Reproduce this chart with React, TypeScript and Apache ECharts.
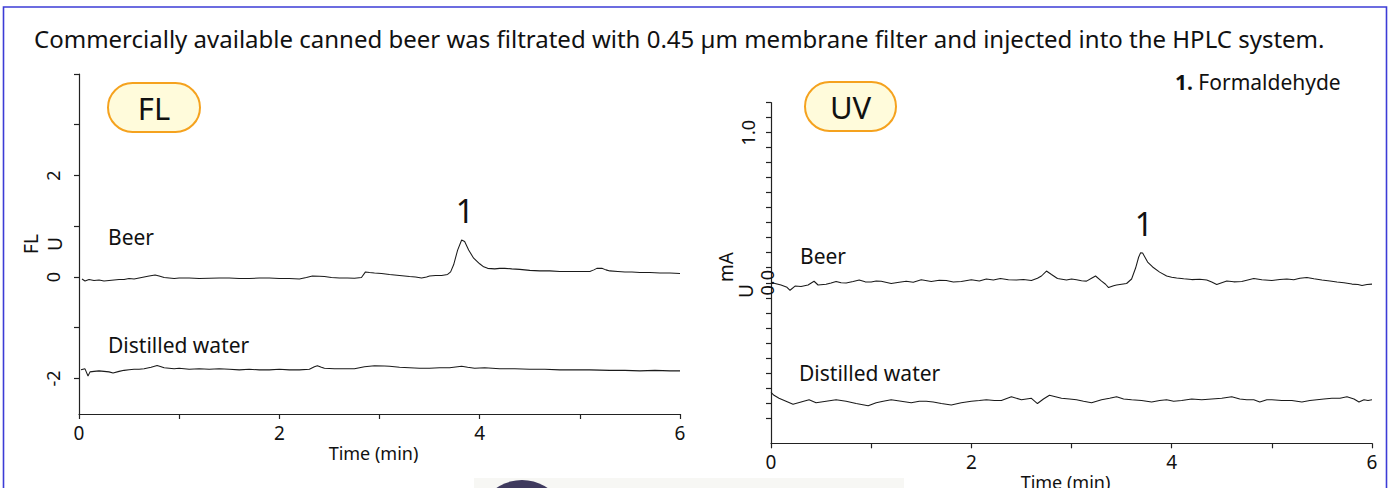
import React, { useEffect, useRef } from "react";
import * as echarts from "echarts";

// ---------- data (time in min, signal) ----------
const flBeer: [number, number][] = [
  [0.03, -0.04], [0.06, -0.08], [0.1, -0.05], [0.15, -0.07], [0.2, -0.06], [0.25, -0.08], [0.3, -0.07],
  [0.35, -0.06], [0.4, -0.05], [0.45, -0.05], [0.5, -0.03], [0.55, -0.04], [0.6, -0.02], [0.65, 0.0],
  [0.7, 0.02], [0.76, 0.04], [0.8, 0.02], [0.85, -0.01], [0.9, -0.02], [0.95, -0.03], [1.0, -0.02],
  [1.1, -0.02], [1.2, -0.03], [1.3, -0.025], [1.4, -0.02], [1.5, -0.02], [1.6, -0.03], [1.7, -0.03],
  [1.8, -0.02], [1.9, -0.02], [2.0, -0.03], [2.1, -0.03], [2.2, -0.04], [2.27, -0.01], [2.33, 0.02],
  [2.4, 0.015], [2.45, 0.01], [2.52, -0.01], [2.6, -0.02], [2.68, -0.02], [2.75, -0.025], [2.82, -0.01],
  [2.86, 0.1], [2.9, 0.09], [2.95, 0.08], [3.02, 0.07], [3.1, 0.05], [3.2, 0.03], [3.3, 0.01],
  [3.36, 0.0], [3.42, -0.02], [3.47, 0.0], [3.5, 0.02], [3.56, 0.03], [3.62, 0.03], [3.68, 0.05],
  [3.71, 0.1], [3.74, 0.24], [3.78, 0.53], [3.82, 0.73], [3.85, 0.7], [3.89, 0.53], [3.94, 0.37],
  [4.0, 0.26], [4.04, 0.2], [4.08, 0.17], [4.15, 0.16], [4.2, 0.17], [4.25, 0.17], [4.32, 0.16],
  [4.4, 0.15], [4.5, 0.13], [4.6, 0.12], [4.7, 0.12], [4.8, 0.11], [4.9, 0.11], [5.0, 0.11],
  [5.1, 0.11], [5.14, 0.14], [5.17, 0.17], [5.22, 0.17], [5.26, 0.14], [5.3, 0.12], [5.38, 0.11],
  [5.45, 0.1], [5.52, 0.1], [5.6, 0.09], [5.7, 0.09], [5.8, 0.08], [5.9, 0.08], [6.0, 0.07],
];

const flWater: [number, number][] = [
  [0.02, -1.83], [0.06, -1.81], [0.09, -1.95], [0.11, -1.87], [0.15, -1.86], [0.2, -1.85], [0.25, -1.86],
  [0.3, -1.87], [0.34, -1.89], [0.4, -1.86], [0.45, -1.84], [0.5, -1.83], [0.55, -1.82], [0.6, -1.82],
  [0.65, -1.81], [0.72, -1.78], [0.78, -1.745], [0.82, -1.77], [0.85, -1.79], [0.9, -1.8], [0.95, -1.81],
  [1.0, -1.8], [1.1, -1.82], [1.2, -1.81], [1.3, -1.82], [1.4, -1.81], [1.5, -1.82], [1.6, -1.83],
  [1.7, -1.82], [1.8, -1.83], [1.9, -1.83], [2.0, -1.82], [2.1, -1.83], [2.2, -1.83], [2.3, -1.82],
  [2.35, -1.77], [2.38, -1.75], [2.42, -1.78], [2.45, -1.8], [2.55, -1.81], [2.65, -1.81], [2.75, -1.81],
  [2.85, -1.77], [2.95, -1.75], [3.05, -1.755], [3.1, -1.76], [3.2, -1.78], [3.3, -1.79], [3.4, -1.8],
  [3.5, -1.8], [3.6, -1.79], [3.7, -1.79], [3.82, -1.76], [3.88, -1.78], [3.95, -1.8], [4.05, -1.79],
  [4.2, -1.81], [4.35, -1.81], [4.5, -1.82], [4.65, -1.82], [4.8, -1.83], [4.95, -1.83], [5.1, -1.83],
  [5.3, -1.84], [5.45, -1.84], [5.6, -1.85], [5.75, -1.84], [5.9, -1.85], [6.0, -1.85],
];

const uvBeer: [number, number][] = [
  [0.0, 0.0], [0.04, -0.005], [0.1, -0.015], [0.16, -0.03], [0.19, -0.05], [0.24, -0.022], [0.3, -0.025],
  [0.37, -0.015], [0.43, 0.01], [0.47, -0.015], [0.55, -0.01], [0.6, -0.002], [0.65, 0.008], [0.7, 0.0],
  [0.75, -0.002], [0.82, 0.008], [0.88, 0.018], [0.94, 0.006], [1.0, 0.005], [1.05, 0.012], [1.1, 0.01],
  [1.2, -0.005], [1.28, 0.004], [1.35, 0.01], [1.42, 0.004], [1.5, 0.02], [1.6, 0.008], [1.68, 0.016],
  [1.75, 0.015], [1.82, 0.005], [1.9, 0.008], [2.0, 0.02], [2.08, 0.012], [2.15, 0.025], [2.22, 0.018],
  [2.29, 0.028], [2.37, 0.02], [2.45, 0.018], [2.52, 0.022], [2.6, 0.015], [2.66, 0.03], [2.7, 0.045],
  [2.75, 0.078], [2.8, 0.055], [2.86, 0.028], [2.95, 0.018], [3.0, 0.025], [3.05, 0.02], [3.1, 0.014],
  [3.15, 0.011], [3.2, 0.03], [3.24, 0.045], [3.3, 0.011], [3.34, -0.01], [3.37, -0.032], [3.42, -0.02],
  [3.45, -0.015], [3.5, -0.01], [3.55, -0.005], [3.6, 0.025], [3.64, 0.098], [3.67, 0.17], [3.69, 0.2],
  [3.71, 0.198], [3.76, 0.138], [3.81, 0.105], [3.88, 0.071], [3.95, 0.045], [4.0, 0.036], [4.05, 0.031],
  [4.12, 0.026], [4.2, 0.021], [4.28, 0.024], [4.35, 0.018], [4.4, 0.005], [4.45, -0.012], [4.5, 0.0],
  [4.55, 0.011], [4.62, 0.006], [4.7, 0.008], [4.76, 0.018], [4.82, 0.028], [4.9, 0.02], [5.0, 0.015],
  [5.08, 0.022], [5.15, 0.025], [5.22, 0.02], [5.28, 0.03], [5.35, 0.035], [5.42, 0.026], [5.5, 0.018],
  [5.58, 0.012], [5.65, 0.005], [5.72, 0.0], [5.8, -0.009], [5.86, -0.012], [5.9, -0.019], [5.95, -0.012],
  [6.0, -0.009],
];

const uvWater: [number, number][] = [
  [0.0, -0.73], [0.03, -0.75], [0.08, -0.77], [0.15, -0.79], [0.22, -0.81], [0.3, -0.795], [0.38, -0.78],
  [0.45, -0.8], [0.55, -0.79], [0.65, -0.78], [0.75, -0.79], [0.85, -0.805], [0.97, -0.82], [1.05, -0.8],
  [1.12, -0.79], [1.2, -0.78], [1.3, -0.79], [1.4, -0.8], [1.48, -0.79], [1.55, -0.79], [1.62, -0.795],
  [1.7, -0.805], [1.8, -0.815], [1.9, -0.8], [2.0, -0.79], [2.08, -0.785], [2.15, -0.78], [2.23, -0.785],
  [2.3, -0.785], [2.4, -0.76], [2.5, -0.78], [2.6, -0.77], [2.66, -0.805], [2.72, -0.775], [2.78, -0.75],
  [2.84, -0.76], [2.9, -0.77], [2.98, -0.775], [3.05, -0.78], [3.12, -0.79], [3.2, -0.8], [3.3, -0.78],
  [3.38, -0.77], [3.45, -0.76], [3.52, -0.775], [3.6, -0.78], [3.7, -0.785], [3.8, -0.795], [3.88, -0.785],
  [3.95, -0.78], [4.02, -0.79], [4.1, -0.785], [4.2, -0.775], [4.3, -0.78], [4.4, -0.775], [4.5, -0.77],
  [4.6, -0.76], [4.68, -0.775], [4.75, -0.78], [4.82, -0.78], [4.88, -0.795], [4.95, -0.78], [5.0, -0.78],
  [5.1, -0.785], [5.2, -0.785], [5.3, -0.795], [5.38, -0.785], [5.45, -0.78], [5.52, -0.775], [5.6, -0.77],
  [5.68, -0.77], [5.75, -0.76], [5.82, -0.775], [5.87, -0.795], [5.92, -0.78], [5.96, -0.785], [6.0, -0.78],
];

const timeTicks = [0, 1, 2, 3, 4, 5, 6];
const timeLabels = [0, 2, 4, 6];
const flTicks = [-2, -1, 0, 1, 2, 3, 4];
const flLabels = [-2, 0, 2];
const uvTicks = [-0.9, -0.8, -0.7, -0.6, -0.5, -0.4, -0.3, -0.2, -0.1, 0, 0.1, 0.2, 0.3, 0.4, 0.5, 0.6, 0.7, 0.8, 0.9, 1.0, 1.1, 1.2];
const uvLabelUpper = [1.0];
const uvLabelZero = [0.0];

const subtitle =
  "Commercially available canned beer was filtrated with 0.45 µm membrane filter and injected into the HPLC system.";

const FONT = "'Noto Sans', sans-serif";
const AX = "#222";

function xAxisFor(gridIndex: number) {
  return {
    type: "value" as const,
    gridIndex,
    min: 0,
    max: 6,
    axisLine: { show: true, onZero: false, lineStyle: { color: AX, width: 1.2 } },
    axisTick: { show: true, length: 5, customValues: timeTicks, lineStyle: { color: AX, width: 1.2 } },
    axisLabel: {
      customValues: timeLabels,
      margin: 9,
      color: "#111",
      fontSize: 19,
      fontFamily: FONT,
    },
    splitLine: { show: false },
    name: "Time (min)",
    nameLocation: "middle" as const,
    nameGap: 30,
    nameMoveOverlap: false,
    nameTextStyle: { color: "#111", fontSize: 18, fontFamily: FONT, padding: [0, 12, 0, 0] },
  };
}

export default function App() {
  const ref = useRef<HTMLDivElement>(null);
  useEffect(() => {
    if (!ref.current) return;
    const chart = echarts.init(ref.current, null, { renderer: "svg" });
    const lineSeries = (data: [number, number][], xi: number, yi: number) => ({
      type: "line" as const,
      data,
      xAxisIndex: xi,
      yAxisIndex: yi,
      showSymbol: false,
      symbol: "none",
      smooth: false,
      lineStyle: { color: "#1a1a1a", width: 1.05 },
      silent: true,
    });
    const pill = (x: number, y: number, w: number, h: number, label: string) => ({
      type: "group",
      children: [
        {
          type: "rect",
          shape: { x, y, width: w, height: h, r: h / 2 },
          style: { fill: "#fffbdb", stroke: "#f5a21e", lineWidth: 2 },
        },
        {
          type: "text",
          x: x + w / 2,
          y: y + h / 2,
          style: {
            text: label,
            fontSize: 31,
            fontFamily: FONT,
            fill: "#111",
            textAlign: "center",
            textVerticalAlign: "middle",
          },
        },
      ],
    });
    const txt = (x: number, y: number, text: string, size: number, align = "left", rotation = 0) => ({
      type: "text",
      x,
      y,
      rotation,
      style: {
        text,
        fontSize: size,
        fontFamily: FONT,
        fill: "#111",
        textAlign: align,
        textVerticalAlign: "middle",
      },
    });

    chart.setOption({
      animation: false,
      backgroundColor: "#ffffff",
      textStyle: { fontFamily: FONT },
      grid: [
        { left: 79, top: 74, width: 601, height: 340, containLabel: false, outerBoundsMode: "none" },
        { left: 771, top: 102.7, width: 601, height: 340.6, containLabel: false, outerBoundsMode: "none" },
      ],
      xAxis: [xAxisFor(0), xAxisFor(1)],
      yAxis: [
        {
          type: "value",
          gridIndex: 0,
          position: "left",
          min: -2.7,
          max: 4,
          axisLine: { show: true, onZero: false, lineStyle: { color: AX, width: 1.2 } },
          axisTick: { show: true, length: 5, customValues: flTicks, lineStyle: { color: AX, width: 1.2 } },
          axisLabel: {
            customValues: flLabels,
            rotate: 90,
            margin: 17,
            color: "#111",
            fontSize: 18,
            fontFamily: FONT,
          },
          splitLine: { show: false },
        },
        {
          type: "value",
          gridIndex: 1,
          position: "left",
          min: -1.07,
          max: 1.2,
          axisLine: { show: true, onZero: false, lineStyle: { color: AX, width: 1.2 } },
          axisTick: { show: true, length: 5, customValues: uvTicks, lineStyle: { color: AX, width: 1.2 } },
          axisLabel: {
            customValues: uvLabelUpper,
            rotate: 90,
            margin: 14,
            color: "#111",
            fontSize: 18,
            fontFamily: FONT,
            formatter: (v: number) => v.toFixed(1),
          },
          splitLine: { show: false },
        },
        {
          type: "value",
          gridIndex: 1,
          position: "left",
          offset: 0,
          min: -1.07,
          max: 1.2,
          axisLine: { show: false, onZero: false },
          axisTick: { show: false },
          axisLabel: {
            customValues: uvLabelZero,
            rotate: 90,
            margin: -5,
            color: "#111",
            fontSize: 18,
            fontFamily: FONT,
            formatter: (v: number) => v.toFixed(1),
          },
          splitLine: { show: false },
        },
      ],
      series: [
        lineSeries(flBeer, 0, 0),
        lineSeries(flWater, 0, 0),
        lineSeries(uvBeer, 1, 1),
        lineSeries(uvWater, 1, 1),
      ],
      graphic: [
        {
          type: "rect",
          shape: { x: 3.5, y: 7, width: 1383, height: 520 },
          style: { fill: "none", stroke: "#3c3cd6", lineWidth: 1.6 },
          silent: true,
        },
        {
          type: "rect",
          shape: { x: 474, y: 478, width: 430, height: 20 },
          style: { fill: "#f7f7f4" },
          silent: true,
        },
        {
          type: "circle",
          shape: { cx: 522, cy: 525, r: 45 },
          style: { fill: "#3f3a5e" },
          silent: true,
        },
        txt(34, 38, subtitle, 24),
        pill(108, 83, 92, 49, "FL"),
        pill(805, 82, 91, 49, "UV"),
        {
          type: "text",
          x: 1175,
          y: 82,
          style: {
            text: "{b|1.} Formaldehyde",
            fontSize: 21,
            fontFamily: FONT,
            fill: "#111",
            textAlign: "left",
            textVerticalAlign: "middle",
            rich: { b: { fontWeight: "bold", fontSize: 21, fontFamily: FONT, fill: "#111" } },
          },
        },
        txt(108, 237, "Beer", 21),
        txt(108, 345, "Distilled water", 21),
        txt(465, 210, "1", 32, "center"),
        txt(800, 256, "Beer", 21),
        txt(799, 373, "Distilled water", 21),
        txt(1144, 223, "1", 32, "center"),
        txt(31, 244, "FL", 19, "center", Math.PI / 2),
        txt(55, 244, "U", 19, "center", Math.PI / 2),
        txt(726, 267, "mA", 19, "center", Math.PI / 2),
        txt(746, 291, "U", 19, "center", Math.PI / 2),
      ],
    });
    return () => chart.dispose();
  }, []);
  return (
    <div
      ref={ref}
      style={{ position: "absolute", left: 0, top: 0, width: 1390, height: 488, background: "#fff" }}
    />
  );
}
